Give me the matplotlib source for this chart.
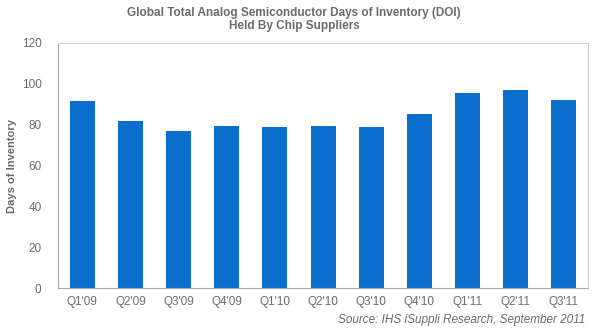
import matplotlib
matplotlib.use("Agg")
import matplotlib.pyplot as plt
import numpy as np

# Dati
quarters = ["Q1'09", "Q2'09", "Q3'09", "Q4'09", "Q1'10", "Q2'10",
            "Q3'10", "Q4'10", "Q1'11", "Q2'11", "Q3'11"]
days_inventory = [91.7, 81.8, 77.0, 79.3, 78.8, 79.3, 78.8, 85.0, 95.3, 96.8, 92.0]
y_ticks = [0, 20, 40, 60, 80, 100, 120]

GRAY = "#6b6b6b"
BLUE = "#0a6fcc"

plt.rcParams["font.family"] = ["Liberation Sans", "DejaVu Sans"]

fig = plt.figure(figsize=(6.0, 3.33), dpi=100)
ax = fig.add_axes([0.097, 0.135, 0.883, 0.736])

x = np.arange(len(quarters))
ax.bar(x, days_inventory, width=0.52, color=BLUE, zorder=2)

ax.set_xlim(-0.5, len(quarters) - 0.5)
ax.set_ylim(0, 120)
ax.set_yticks(y_ticks)
ax.set_xticks(x)
ax.set_xticklabels(quarters)
ax.tick_params(axis="both", length=0, colors=GRAY, labelsize=8.5)
ax.tick_params(axis="y", pad=12)
ax.tick_params(axis="x", pad=6)

for side in ["left", "bottom"]:
    ax.spines[side].set_color("#a8a8a8")
for side in ["top", "right"]:
    ax.spines[side].set_color("#d0d0d0")

ax.set_ylabel("Days of Inventory", color=GRAY, fontsize=8, fontweight="bold", labelpad=3)

fig.text(0.49, 0.962, "Global Total Analog Semiconductor Days of Inventory (DOI)",
         ha="center", va="center", color=GRAY, fontsize=8.5, fontweight="bold")
fig.text(0.49, 0.922, "Held By Chip Suppliers",
         ha="center", va="center", color=GRAY, fontsize=8.5, fontweight="bold")
fig.text(0.975, 0.04, "Source: IHS iSuppli Research, September 2011",
         ha="right", va="center", color=GRAY, fontsize=8.5, style="italic")

fig.savefig("out.png", dpi=100)
